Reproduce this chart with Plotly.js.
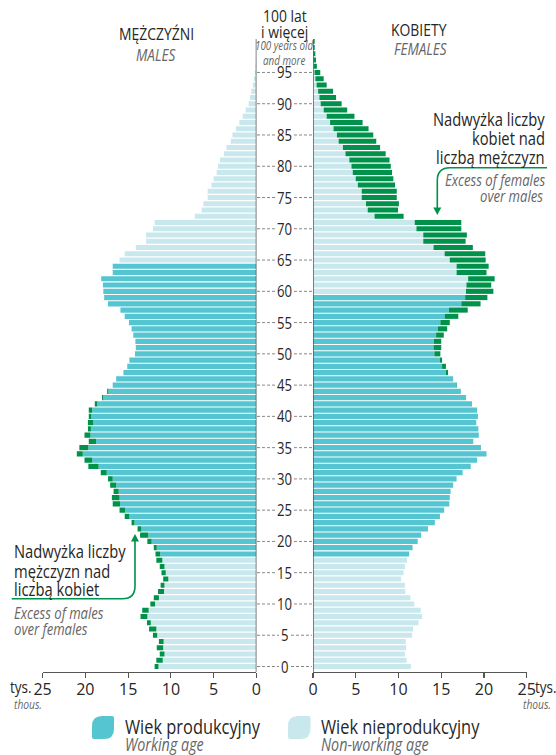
<!DOCTYPE html>
<html><head><meta charset="utf-8">
<script src="https://cdn.plot.ly/plotly-3.0.1.min.js"></script>
<style>
html,body{margin:0;padding:0;background:#fff}
#chart{width:556px;height:755px}
.annotation-text{transform-box:fill-box;transform:scaleX(0.82)}
.annotation-text[text-anchor="start"]{transform-origin:left center}
.annotation-text[text-anchor="middle"]{transform-origin:center center}
.annotation-text[text-anchor="end"]{transform-origin:right center}
</style>
</head><body><div id="chart"></div>
<script>
// Population by single year of age (thousands), ages 0..100+
const males = [
 11.9, 11.7, 11.3, 11.65, 11.4, 12.1, 12.55, 12.8, 13.55, 13.35,
 12.4, 12.0, 11.5, 11.2, 10.9, 11.1, 11.3, 11.7, 11.8, 12.0,
 12.75, 13.6, 13.9, 14.6, 15.4, 16.0, 16.8, 16.9, 16.7, 17.1,
 17.35, 18.2, 19.65, 20.1, 21.0, 20.7, 19.6, 20.1, 19.7, 19.7,
 19.6, 19.6, 18.9, 18.05, 17.45, 16.8, 16.4, 15.55, 15.1, 14.85,
 14.2, 14.1, 14.15, 14.4, 14.6, 14.9, 15.4, 15.9, 17.35, 17.8,
 17.9, 17.95, 18.15, 16.8, 16.8, 16.0, 15.4, 14.1, 12.9, 12.9,
 12.1, 11.9, 7.2, 6.4, 6.2, 5.7, 5.7, 5.25, 5.0, 4.65,
 4.5, 4.25, 3.8, 3.5, 3.0, 2.8, 2.4, 2.0, 1.6, 1.25,
 0.9, 0.75, 0.6, 0.42, 0.28, 0.18, 0.1, 0.06, 0.04, 0.03,
 0.03
];
const females = [
 11.45, 10.95, 10.75, 10.9, 10.85, 11.6, 11.7, 12.35, 12.75, 12.6,
 11.85, 11.4, 10.8, 10.75, 10.3, 10.6, 10.75, 11.0, 11.25, 11.65,
 12.25, 12.65, 13.45, 14.25, 14.85, 15.35, 15.95, 16.0, 16.1, 16.4,
 16.8, 17.5, 18.45, 19.2, 20.3, 19.65, 18.75, 19.4, 19.35, 19.1,
 19.3, 19.2, 18.6, 17.9, 17.3, 16.85, 16.4, 15.8, 15.55, 15.1,
 14.9, 15.0, 15.0, 15.3, 15.7, 16.0, 17.0, 18.1, 19.6, 20.4,
 21.1, 20.85, 21.25, 20.3, 20.55, 20.2, 20.15, 18.7, 17.85, 18.0,
 17.35, 17.35, 10.6, 9.95, 10.05, 9.8, 9.8, 9.6, 9.4, 9.25,
 9.1, 8.95, 8.5, 7.85, 7.4, 7.05, 6.5, 5.8, 4.85, 4.0,
 3.35, 2.7, 2.35, 1.6, 1.25, 0.85, 0.45, 0.35, 0.27, 0.2,
 0.2
];
const ageTickLabels = [0, 5, 10, 15, 20, 25, 30, 35, 40, 45, 50, 55, 60, 65, 70, 75, 80, 85, 90, 95];
const xTickValues = [0, 5, 10, 15, 20, 25];
const maleWorkingAge = [18, 64];
const femaleWorkingAge = [18, 59];

const FONT = "'Open Sans', 'Liberation Sans', sans-serif";
const C_WORK = '#55c5d1', C_NON = '#c8e8ee', C_EX = '#00924a';
const TXT = '#262626', GREY = '#666666';

const W = 556, TOP = 39, BOT = 672, PH = BOT - TOP;
const px = x => x / W;
const py = y => (BOT - y) / PH;

function sideTraces(vals, other, work, xa) {
  const ages = vals.map((_, i) => i);
  const base = vals.map((v, i) => Math.min(v, other[i]));
  const isW = i => i >= work[0] && i <= work[1];
  const common = {type: 'bar', orientation: 'h', y: ages, xaxis: xa, yaxis: 'y', hoverinfo: 'skip', showlegend: false};
  return [
    Object.assign({}, common, {x: base.map((v, i) => isW(i) ? v : 0), marker: {color: C_WORK, line: {width: 0}}}),
    Object.assign({}, common, {x: base.map((v, i) => isW(i) ? 0 : v), marker: {color: C_NON, line: {width: 0}}}),
    Object.assign({}, common, {x: vals.map((v, i) => Math.max(0, v - other[i])), base: base, marker: {color: C_EX, line: {width: 0}}})
  ];
}

const data = [].concat(
  sideTraces(males, females, maleWorkingAge, 'x'),
  sideTraces(females, males, femaleWorkingAge, 'x2')
);

function path(segs) {
  return segs.map(s => {
    const c = s[0];
    const pts = s.slice(1).map(p => px(p[0]).toFixed(5) + ',' + py(p[1]).toFixed(5));
    return c + (pts.length ? ' ' + pts.join(' ') : '');
  }).join(' ');
}

const shapes = [];
const annotations = [];

// axis zero lines
shapes.push({type: 'line', xref: 'x', yref: 'paper', x0: 0, x1: 0, y0: 0, y1: 1, line: {color: '#444', width: 1.3}});
shapes.push({type: 'line', xref: 'x2', yref: 'paper', x0: 0, x1: 0, y0: 0, y1: 1, line: {color: '#444', width: 1.3}});

// center age labels and dashed leaders
const CX = 284.6;
ageTickLabels.forEach(a => {
  const one = String(a).length === 1;
  const l1 = one ? 279 : 276, r0 = one ? 291 : 294;
  shapes.push({type: 'line', xref: 'paper', yref: 'y', x0: px(257), x1: px(l1), y0: a, y1: a, line: {color: '#888', width: 1, dash: '3px,2px'}});
  shapes.push({type: 'line', xref: 'paper', yref: 'y', x0: px(r0), x1: px(312), y0: a, y1: a, line: {color: '#888', width: 1, dash: '3px,2px'}});
  annotations.push({xref: 'paper', yref: 'y', x: px(CX), y: a, text: String(a), showarrow: false,
    xanchor: 'center', yanchor: 'middle', align: 'center', font: {family: FONT, size: 16, color: TXT}});
});

function T(text, x, y, o) {
  o = o || {};
  annotations.push({xref: 'paper', yref: 'paper', x: px(x), y: py(y), text: text, showarrow: false,
    xanchor: o.xa || 'center', yanchor: 'middle', align: o.xa || 'center',
    font: {family: FONT, size: o.size || 17, color: o.color || TXT, style: o.italic ? 'italic' : 'normal'}});
}

// headers
T('MĘŻCZYŹNI', 156, 33, {size: 17});
T('MALES', 156, 55, {size: 16.5, color: GREY, italic: true});
T('KOBIETY', 419, 29, {size: 17});
T('FEMALES', 420, 49, {size: 16.5, color: GREY, italic: true});
T('100 lat', CX, 15, {size: 17});
T('i więcej', CX, 31, {size: 17});
T('100 years old', CX, 45, {size: 12, color: GREY, italic: true});
T('and more', CX, 60, {size: 12, color: GREY, italic: true});

// unit labels
T('tys.', 34, 687, {size: 16.5, xa: 'right'});
T('thous.', 12, 704, {size: 12.5, xa: 'left', color: GREY, italic: true});
T('tys.', 533, 687, {size: 16.5, xa: 'left'});
T('thous.', 553, 704, {size: 12.5, xa: 'right', color: GREY, italic: true});

// right annotation
T('Nadwyżka liczby', 547, 118, {size: 18, xa: 'right'});
T('kobiet nad', 547, 138, {size: 18, xa: 'right'});
T('liczbą mężczyzn', 547, 157, {size: 18, xa: 'right'});
T('Excess of females', 547, 180, {size: 16, xa: 'right', color: GREY, italic: true});
T('over males', 545, 196, {size: 16, xa: 'right', color: GREY, italic: true});
shapes.push({type: 'path', xref: 'paper', yref: 'paper', line: {color: C_EX, width: 1.6},
  path: path([['M', [547, 167.7]], ['L', [450, 167.7]], ['Q', [437.3, 167.7], [437.3, 180.4]], ['L', [437.3, 208.5]]])});
shapes.push({type: 'path', xref: 'paper', yref: 'paper', line: {width: 0}, fillcolor: C_EX,
  path: path([['M', [433.3, 207.5]], ['L', [441.3, 207.5]], ['L', [437.3, 215]], ['Z']])});

// left annotation
T('Nadwyżka liczby', 11.7, 550, {size: 18, xa: 'left'});
T('mężczyzn nad', 11.7, 570, {size: 18, xa: 'left'});
T('liczbą kobiet', 11.7, 588, {size: 18, xa: 'left'});
T('Excess of males', 11.7, 613, {size: 16, xa: 'left', color: GREY, italic: true});
T('over females', 11.7, 629, {size: 16, xa: 'left', color: GREY, italic: true});
shapes.push({type: 'path', xref: 'paper', yref: 'paper', line: {color: C_EX, width: 1.6},
  path: path([['M', [11.7, 598.7]], ['L', [122.5, 598.7]], ['Q', [135, 598.7], [135, 586.2]], ['L', [135, 540.5]]])});
shapes.push({type: 'path', xref: 'paper', yref: 'paper', line: {width: 0}, fillcolor: C_EX,
  path: path([['M', [131, 541.5]], ['L', [139, 541.5]], ['L', [135, 534]], ['Z']])});

// legend leaves
function leaf(x0, y0, x1, y1, color) {
  const r = 10, s = 2;
  shapes.push({type: 'path', xref: 'paper', yref: 'paper', line: {width: 0}, fillcolor: color,
    path: path([['M', [x0, y0 + r]], ['Q', [x0, y0], [x0 + r, y0]], ['L', [x1 - s, y0]], ['Q', [x1, y0], [x1, y0 + s]],
      ['L', [x1, y1 - r]], ['Q', [x1, y1], [x1 - r, y1]], ['L', [x0 + s, y1]], ['Q', [x0, y1], [x0, y1 - s]], ['Z']])});
}
leaf(92, 716, 114, 739, C_WORK);
leaf(288, 716, 310.5, 739, C_NON);
T('Wiek produkcyjny', 123, 725, {size: 20, xa: 'left'});
T('Working age', 123, 743.5, {size: 17.5, xa: 'left', color: GREY, italic: true});
T('Wiek nieprodukcyjny', 319, 725, {size: 20, xa: 'left'});
T('Non-working age', 319, 743.5, {size: 17.5, xa: 'left', color: GREY, italic: true});

const axisCommon = {
  anchor: 'y', showline: true, linecolor: '#555', linewidth: 1.2, ticks: 'outside', ticklen: 5,
  tickwidth: 1.2, tickcolor: '#555', tickvals: xTickValues, ticktext: xTickValues.map(String),
  tickfont: {family: FONT, size: 16, color: TXT}, showgrid: false, zeroline: false, fixedrange: true,
  ticklabelstandoff: -2
};

const layout = {
  width: 556, height: 755,
  margin: {l: 0, r: 0, t: TOP, b: 755 - BOT, pad: 0},
  paper_bgcolor: '#fff', plot_bgcolor: 'rgba(0,0,0,0)',
  barmode: 'overlay', bargap: 0.18,
  showlegend: false,
  font: {family: FONT, color: TXT},
  xaxis: Object.assign({}, axisCommon, {domain: [px(42.6), px(256.4)], range: [25, 0]}),
  xaxis2: Object.assign({}, axisCommon, {domain: [px(313), px(526.7)], range: [0, 25]}),
  yaxis: {domain: [0, 1], range: [-0.88, 100.35], showticklabels: false, showgrid: false, zeroline: false,
    showline: false, ticks: '', fixedrange: true},
  shapes: shapes,
  annotations: annotations
};

Plotly.newPlot('chart', data, layout, {displayModeBar: false, staticPlot: true});
</script>
</body></html>
